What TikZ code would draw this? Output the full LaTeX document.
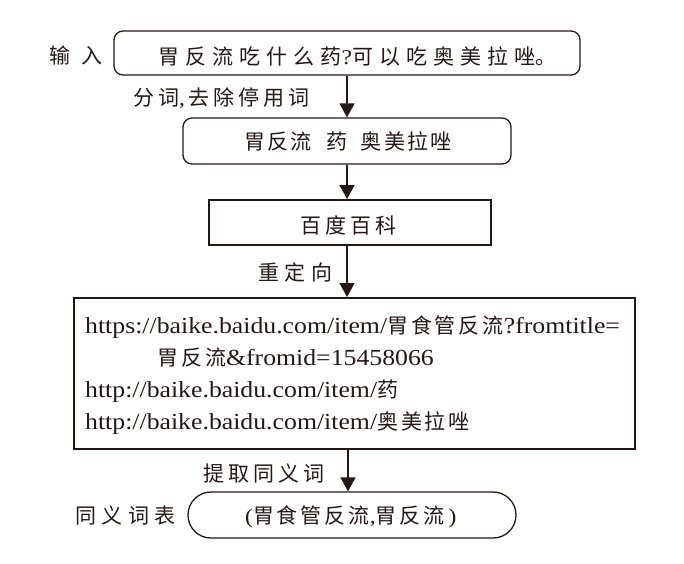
\documentclass[tikz,border=0pt]{standalone}
\usepackage{fontspec}
\setmainfont{Liberation Serif}[FakeStretch=1.12]
\newfontfamily\cjkA[LetterSpace=29]{Noto Sans CJK SC}
\newfontfamily\cjkB[LetterSpace=11]{Noto Sans CJK SC}
\newfontfamily\cjkC[LetterSpace=19]{Noto Sans CJK SC}
\newfontfamily\cjkD[LetterSpace=14]{Noto Sans CJK SC}
\newfontfamily\cjkE[LetterSpace=26]{Noto Sans CJK SC}
\newfontfamily\cjkF[LetterSpace=52]{Noto Sans CJK SC}
\usetikzlibrary{arrows.meta}
\definecolor{ink}{HTML}{231815}
\tikzset{
  rbox/.style={draw=ink, line width=1.3pt, rounded corners=9pt, inner sep=0pt},
  sbox/.style={draw=ink, line width=2pt, inner sep=0pt},
  arr/.style={draw=ink, line width=1.6pt, -{Triangle[width=15pt,length=14pt]}},
  cjk/.style={inner sep=0pt, anchor=base west, text=ink, font=\fontsize{21}{25}\selectfont},
  lat/.style={inner sep=0pt, anchor=base west, text=ink, font=\fontsize{23}{27}\selectfont},
}
\begin{document}
\begin{tikzpicture}[x=1pt,y=-1pt]
\useasboundingbox (0,0) rectangle (684,563);
% boxes
\node[rbox, minimum width=466pt, minimum height=44pt] (b1) at (347,53) {};
\node[rbox, minimum width=328pt, minimum height=46pt] (b2) at (347,141) {};
\node[sbox, minimum width=282pt, minimum height=45pt] (b3) at (350,222.5) {};
\node[sbox, minimum width=561pt, minimum height=151pt] (b4) at (354.5,373.5) {};
\node[rbox, rounded corners=22.9pt, minimum width=328pt, minimum height=46pt] (b5) at (352,515) {};
% box texts
\node[cjk] (t1) at (158,64) {{\cjkA 胃反流吃什么药}?{\cjkA 可以吃奥美拉唑}{\cjkB 。}};
\node[cjk] (t2) at (244,149) {{\cjkB 胃反流}\hspace{15pt}{\cjkB 药}\hspace{13pt}{\cjkB 奥美拉唑}};
\node[cjk] (t3) at (300,233) {\cjkC 百度百科};
\node[lat] (u1) at (85,333) {https://baike.baidu.com/item/{\fontsize{21}{25}\selectfont\cjkD 胃食管反流}?fromtitle=};
\node[lat] (u2) at (157,365) {{\fontsize{21}{25}\selectfont\cjkD 胃反流}\&fromid=15458066};
\node[lat] (u3) at (85,397) {http://baike.baidu.com/item/{\fontsize{21}{25}\selectfont\cjkD 药}};
\node[lat] (u4) at (85,429) {http://baike.baidu.com/item/{\fontsize{21}{25}\selectfont\cjkD 奥美拉唑}};
\node[cjk] (t5) at (245,523) {({\cjkD 胃食管反流},{\cjkD 胃反流}\hspace{4pt})};
% side labels
\node[cjk] (l1) at (49,63) {\cjkF 输入};
\node[cjk] (l2) at (133,105) {{\cjkC 分词},\hspace{3pt}{\cjkC 去除停用}\hspace{4pt}{\cjkC 词}};
\node[cjk] (l3) at (258,280) {\cjkE 重定向};
\node[cjk] (l4) at (203,481) {\cjkC 提取同义词};
\node[cjk] (l5) at (75,523.5) {\cjkE 同义词表};
% connectors
\draw[arr] (b1.south) -- (b2.north);
\draw[arr] (b2.south) -- (b2.south |- b3.north);
\draw[arr] (b2.south |- b3.south) -- (b2.south |- b4.north);
\coordinate (c4) at (348,0);
\draw[arr] (c4 |- b4.south) -- (c4 |- b5.north);
\end{tikzpicture}
\end{document}
